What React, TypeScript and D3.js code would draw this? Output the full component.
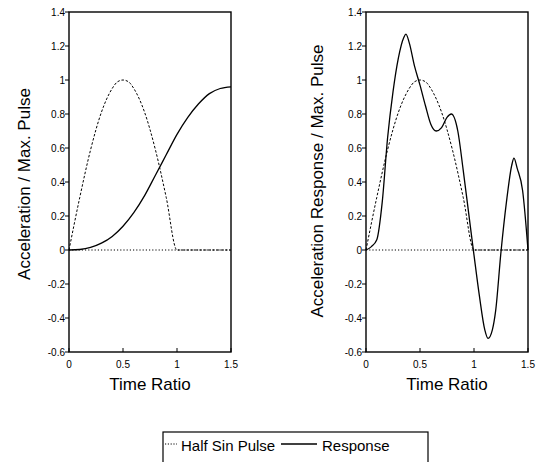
import React from "react";
import * as d3 from "d3";

const yTicks = [1.4, 1.2, 1, 0.8, 0.6, 0.4, 0.2, 0, -0.2, -0.4, -0.6];
const xTicks = [0, 0.5, 1, 1.5];

const pulseT = [0, 0.1, 0.2, 0.3, 0.4, 0.45, 0.5, 0.55, 0.6, 0.7, 0.8, 0.9, 1.0, 1.5];
const pulseV = [0, 0.31, 0.59, 0.81, 0.95, 0.99, 1.0, 0.99, 0.95, 0.81, 0.59, 0.31, 0, 0];

const leftRespT = [0, 0.1, 0.2, 0.3, 0.4, 0.5, 0.6, 0.7, 0.8, 0.9, 1.0, 1.1, 1.2, 1.3, 1.4, 1.5];
const leftRespV = [0, 0.003, 0.015, 0.04, 0.08, 0.14, 0.22, 0.32, 0.44, 0.56, 0.68, 0.78, 0.86, 0.92, 0.95, 0.96];

const rightRespT = [0, 0.05, 0.1, 0.15, 0.2, 0.25, 0.3, 0.35, 0.37, 0.4, 0.45, 0.5, 0.55, 0.6, 0.65, 0.7, 0.75, 0.79, 0.85, 0.9, 0.95, 1.0, 1.05, 1.1, 1.13, 1.17, 1.2, 1.25, 1.3, 1.35, 1.37, 1.4, 1.45, 1.5];
const rightRespV = [0, 0.02, 0.06, 0.28, 0.66, 0.93, 1.13, 1.25, 1.27, 1.22, 1.08, 0.97, 0.85, 0.74, 0.7, 0.72, 0.78, 0.8, 0.7, 0.47, 0.22, -0.03, -0.27, -0.47, -0.52, -0.47, -0.36, -0.01, 0.28, 0.5, 0.54, 0.48, 0.35, 0.0];

const legendLabels = ["Half Sin Pulse", "Response"];
const xTitle = "Time Ratio";
const yTitles = ["Acceleration / Max. Pulse", "Acceleration Response / Max. Pulse"];

const FONT = "'Liberation Sans', Arial, Helvetica, sans-serif";

type PanelProps = {
  x0: number;
  x1: number;
  respT: number[];
  respV: number[];
  yTitle: string;
  titleX: number;
  titleY: number;
};

function Panel({ x0, x1, respT, respV, yTitle, titleX, titleY }: PanelProps) {
  const x = d3.scaleLinear().domain([0, 1.5]).range([x0, x1]);
  const y = d3.scaleLinear().domain([-0.6, 1.4]).range([352, 12]);
  const line = d3
    .line<[number, number]>()
    .x((d) => x(d[0]))
    .y((d) => y(d[1]))
    .curve(d3.curveMonotoneX);
  const pulsePts = pulseT.map((t, i) => [t, pulseV[i]] as [number, number]);
  const respPts = respT.map((t, i) => [t, respV[i]] as [number, number]);
  const fmt = (v: number) => (v === 0 ? "0" : String(v));
  return (
    <g>
      <line x1={x(0)} x2={x(1.5)} y1={y(0)} y2={y(0)} stroke="#000" strokeWidth={1} strokeDasharray="1.2 2" />
      <path d={line(pulsePts) || ""} fill="none" stroke="#000" strokeWidth={1} strokeDasharray="2.5 1.8" />
      <path d={line(respPts) || ""} fill="none" stroke="#000" strokeWidth={1.3} />
      <rect x={x0} y={12} width={x1 - x0} height={340} fill="none" stroke="#000" strokeWidth={1.4} />
      {yTicks.map((v) => (
        <g key={v}>
          <line x1={x0 - 4} x2={x0} y1={y(v)} y2={y(v)} stroke="#000" strokeWidth={1} />
          <text x={x0 - 4} y={y(v) + 3.5} textAnchor="end" fontSize={10} fontFamily={FONT}>
            {fmt(v)}
          </text>
        </g>
      ))}
      {xTicks.map((v) => (
        <g key={v}>
          <line x1={x(v)} x2={x(v)} y1={352} y2={348} stroke="#000" strokeWidth={1} />
          <text x={x(v)} y={368} textAnchor="middle" fontSize={10} fontFamily={FONT}>
            {fmt(v)}
          </text>
        </g>
      ))}
      <text x={(x0 + x1) / 2} y={390} textAnchor="middle" fontSize={17} fontFamily={FONT}>
        {xTitle}
      </text>
      <text
        transform={`translate(${titleX},${titleY}) rotate(-90)`}
        textAnchor="middle"
        fontSize={17}
        fontFamily={FONT}
      >
        {yTitle}
      </text>
    </g>
  );
}

export default function App() {
  return (
    <svg width={538} height={462} style={{ position: "absolute", left: 0, top: 0, background: "#fff" }}>
      <rect width={538} height={462} fill="#fff" />
      <Panel x0={69} x1={231} respT={leftRespT} respV={leftRespV} yTitle={yTitles[0]} titleX={30} titleY={184} />
      <Panel x0={366} x1={528} respT={rightRespT} respV={rightRespV} yTitle={yTitles[1]} titleX={323} titleY={181} />
      <rect x={163} y={432} width={265} height={40} fill="none" stroke="#000" strokeWidth={1.2} />
      <line x1={165} x2={177} y1={444} y2={444} stroke="#000" strokeWidth={1} strokeDasharray="1.2 1.6" />
      <text x={181} y={451} fontSize={15} fontFamily={FONT}>
        {legendLabels[0]}
      </text>
      <line x1={281} x2={317} y1={444} y2={444} stroke="#000" strokeWidth={1.3} />
      <text x={322} y={451} fontSize={15} fontFamily={FONT}>
        {legendLabels[1]}
      </text>
    </svg>
  );
}
